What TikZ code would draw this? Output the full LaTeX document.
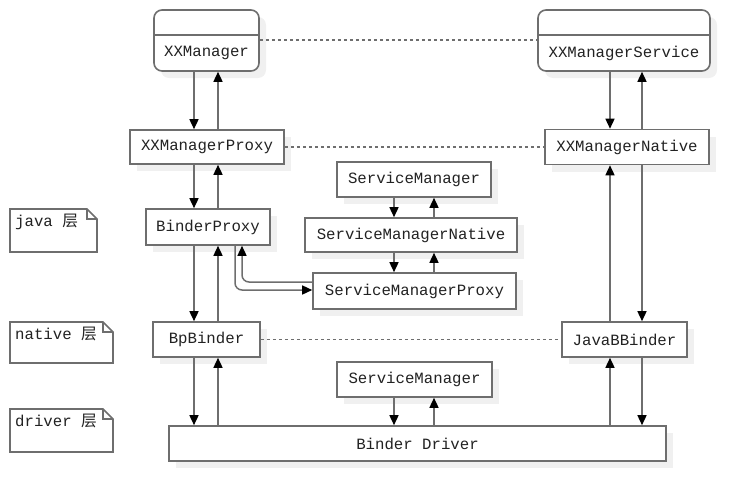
\documentclass[tikz,border=0pt]{standalone}
\usepackage{fontspec}
\setmonofont{Liberation Mono}
\newfontfamily\cjkfont{Noto Sans CJK SC}
\usetikzlibrary{arrows.meta}
\definecolor{edge}{HTML}{6E6E6E}
\definecolor{shade}{HTML}{F0F0F0}
\definecolor{txt}{HTML}{222222}
\tikzset{
  box/.style={draw=edge, line width=1.6pt, fill=white, inner sep=0pt, text=txt,
    font=\ttfamily\fontsize{15.7}{18}\selectfont,
    preaction={draw=none, fill=shade, transform canvas={xshift=7pt, yshift=-7pt}}},
  rbox/.style={box, rounded corners=8pt},
  arr/.style={draw=edge, line width=1.5pt, -{Triangle[length=10pt,width=9pt,fill=black,color=black]}},
  dots/.style={draw=edge, line width=1.6pt, dash pattern=on 3pt off 3pt},
  notebox/.style={draw=edge, line width=1.6pt, fill=white},
  notetext/.style={anchor=north west, inner sep=0pt, text=txt, font=\ttfamily\fontsize{15.7}{18}\selectfont},
  lbl/.style={inner sep=0pt, text=txt, font=\ttfamily\fontsize{15.7}{18}\selectfont}
}
\newcommand{\mknote}[5]{% name, x1, y1, x2, y2
  \draw[notebox] (#2,#3) -- (#4-10,#3) -- (#4,#3+10) -- (#4,#5) -- (#2,#5) -- cycle;
  \draw[notebox, fill=none] (#4-10,#3) -- (#4-10,#3+10) -- (#4,#3+10);
}
\begin{document}
\begin{tikzpicture}[x=1pt,y=-1pt]
\useasboundingbox (0,0) rectangle (750,501);
% top service boxes
\node[rbox, minimum width=105pt, minimum height=61pt] (xxm) at (206.5,40.5) {};
\node[lbl] (xxmt) at (206.5,53) {XXManager};
\draw[edge, line width=1.6pt] (xxm.west |- 0,35) -- (xxm.east |- 0,35);
\node[rbox, minimum width=172pt, minimum height=61pt] (xxms) at (624,40.5) {};
\node[lbl] (xxmst) at (624,53) {XXManagerService};
\draw[edge, line width=1.6pt] (xxms.west |- 0,35) -- (xxms.east |- 0,35);
% boxes
\node[box, minimum width=154pt, minimum height=34pt] (xxmp) at (207,147) {XXManagerProxy};
\node[box, minimum width=164pt, minimum height=35pt] (xxmn) at (627,147) {XXManagerNative};
\node[box, minimum width=124pt, minimum height=36pt] (bp) at (208,227) {BinderProxy};
\node[box, minimum width=154pt, minimum height=35pt] (sm1) at (414,179.5) {ServiceManager};
\node[box, minimum width=212pt, minimum height=34pt] (smn) at (411,235) {ServiceManagerNative};
\node[box, minimum width=203pt, minimum height=36pt] (smp) at (414.5,291) {ServiceManagerProxy};
\node[box, minimum width=107pt, minimum height=35pt] (bpb) at (206.5,339.5) {BpBinder};
\node[box, minimum width=125pt, minimum height=35pt] (jbb) at (624.5,339.5) {JavaBBinder};
\node[box, minimum width=155pt, minimum height=35pt] (sm2) at (414.5,379.5) {ServiceManager};
\node[box, minimum width=497pt, minimum height=35pt] (drv) at (417.5,443.5) {Binder Driver};
% notes
\mknote{java}{10}{209}{97}{252}
\node[notetext] (javat) at (15,214) {java \cjkfont 层};
\mknote{native}{10}{322}{113}{363}
\node[notetext] (nativet) at (15,327) {native \cjkfont 层};
\mknote{driver}{10}{409}{113}{452}
\node[notetext] (drivert) at (15,414) {driver \cjkfont 层};
% dotted relations
\draw[dots] (xxm.east |- 0,40) -- (xxms.west |- 0,40);
\draw[dots] (xxmp) -- (xxmn);
\draw[dots] (bpb) -- (jbb);
% left column arrows
\draw[arr] (xxm.south -| 194,0) -- (xxmp.north -| 194,0);
\draw[arr] (xxmp.north -| 218,0) -- (xxm.south -| 218,0);
\draw[arr] (xxmp.south -| 194,0) -- (bp.north -| 194,0);
\draw[arr] (bp.north -| 218,0) -- (xxmp.south -| 218,0);
\draw[arr] (bp.south -| 194,0) -- (bpb.north -| 194,0);
\draw[arr] (bpb.north -| 218,0) -- (bp.south -| 218,0);
\draw[arr] (bpb.south -| 194,0) -- (drv.north -| 194,0);
\draw[arr] (drv.north -| 218,0) -- (bpb.south -| 218,0);
% binder proxy <-> service manager proxy
\draw[arr, rounded corners=7pt] (bp.south -| 235,0) -- (235,290) -- (smp.west |- 0,290);
\draw[arr, rounded corners=7pt] (smp.west |- 0,282) -- (242,282) -- (bp.south -| 242,0);
% service manager column
\draw[arr] (sm1.south -| 394,0) -- (smn.north -| 394,0);
\draw[arr] (smn.north -| 434,0) -- (sm1.south -| 434,0);
\draw[arr] (smn.south -| 394,0) -- (smp.north -| 394,0);
\draw[arr] (smp.north -| 434,0) -- (smn.south -| 434,0);
\draw[arr] (sm2.south -| 394,0) -- (drv.north -| 394,0);
\draw[arr] (drv.north -| 434,0) -- (sm2.south -| 434,0);
% right column
\draw[arr] (xxms.south -| 610,0) -- (xxmn.north -| 610,0);
\draw[arr] (xxmn.north -| 642,0) -- (xxms.south -| 642,0);
\draw[arr] (jbb.north -| 610,0) -- (xxmn.south -| 610,0);
\draw[arr] (xxmn.south -| 642,0) -- (jbb.north -| 642,0);
\draw[arr] (drv.north -| 610,0) -- (jbb.south -| 610,0);
\draw[arr] (jbb.south -| 642,0) -- (drv.north -| 642,0);
\end{tikzpicture}
\end{document}
